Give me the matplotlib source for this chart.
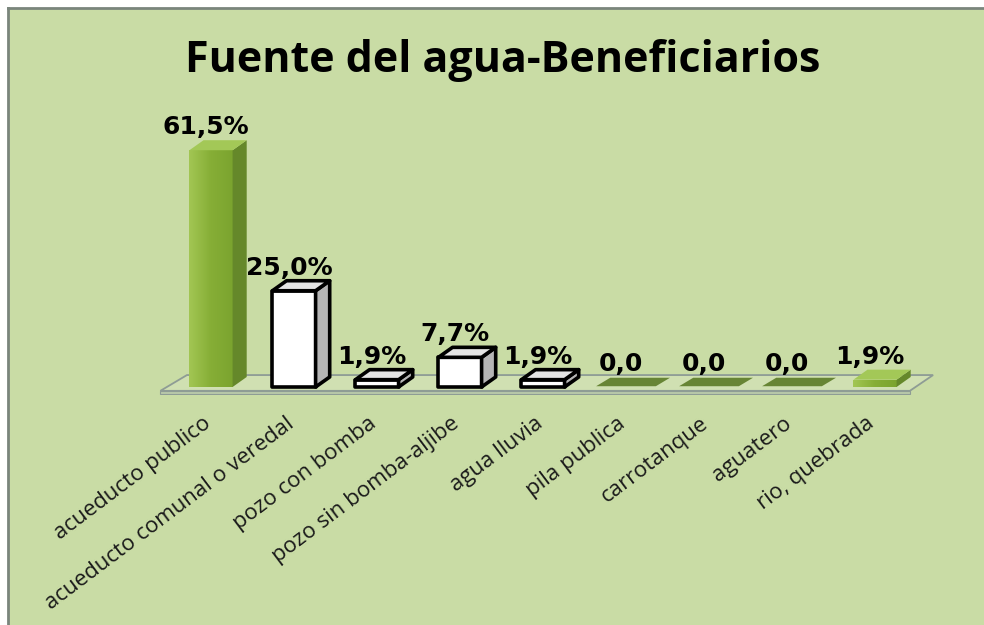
import numpy as np
import matplotlib.pyplot as plt
from matplotlib.patches import Polygon, Rectangle
from matplotlib.colors import LinearSegmentedColormap

# Fuente del agua de los beneficiarios (%)
categorias = ['acueducto publico', 'acueducto comunal o veredal', 'pozo con bomba',
              'pozo sin bomba-aljibe', 'agua lluvia', 'pila publica', 'carrotanque',
              'aguatero', 'rio, quebrada']
porcentajes = [61.5, 25.0, 1.9, 7.7, 1.9, 0.0, 0.0, 0.0, 1.9]
rellenos = ['verde', 'blanco', 'blanco', 'blanco', 'blanco',
            'verde', 'verde', 'verde', 'verde']

# frente, lado, techo, borde
colores = {'verde': ('#8ab43a', '#65882a', '#a3c857', 'none'),
           'blanco': ('white', '#b5b5b5', '#e4e4e4', 'black')}

ancho = 0.52      # ancho de la barra
prof_x = 0.17     # profundidad en x
prof_y = 2.6      # profundidad en y (%)

fig = plt.figure(figsize=(9.84, 6.25), dpi=100)
fig.patch.set_facecolor('white')
fondo = Rectangle((8 / 984, 0), 1, 1 - 8 / 625, transform=fig.transFigure,
                  facecolor='#c9dca5', edgecolor='none', zorder=0)
fig.add_artist(fondo)
fig.add_artist(plt.Line2D([8 / 984, 1], [1 - 8 / 625] * 2, color='#7a857c', lw=2))
fig.add_artist(plt.Line2D([8 / 984] * 2, [0, 1 - 8 / 625], color='#7a857c', lw=2))

fig.text(0.511, 1 - 72 / 625, 'Fuente del agua-Beneficiarios', ha='center',
         va='baseline', fontsize=31, fontweight='bold', family='Open Sans')

ax = fig.add_axes([0.1554, 0.3685, 0.8013, 0.4435])
ax.set_xlim(-0.7, 8.8)
ax.set_ylim(-2, 70)
ax.axis('off')

n = len(categorias)

# piso
piso = Polygon([(-0.61, -1.0), (n - 1 + 0.42, -1.0), (n - 1 + 0.70, 3.1), (-0.29, 3.1)],
               facecolor='#d0e0b2', edgecolor='#8e9c95', lw=1.3, zorder=1)
ax.add_patch(piso)
ax.add_patch(Polygon([(-0.61, -1.0), (n - 1 + 0.42, -1.0), (n - 1 + 0.42, -1.7),
                      (-0.61, -1.7)], facecolor='#b9c9aa', edgecolor='#8e9c95',
                     lw=0.8, zorder=1))

gradiente = np.linspace(0, 1, 50).reshape(1, -1)
cmap_verde = LinearSegmentedColormap.from_list('g', ['#a2c653', '#86ae36', '#7ba42f'])

for i, (v, r) in enumerate(zip(porcentajes, rellenos)):
    frente, lado, techo, borde = colores[r]
    x0, x1 = i - ancho / 2, i + ancho / 2
    lw = 2.6 if borde != 'none' else 0
    if v == 0:
        ax.add_patch(Polygon([(x0 - 0.1, 0.2), (x1 + 0.1, 0.2),
                              (x1 + prof_x + 0.1, prof_y - 0.2),
                              (x0 + prof_x - 0.1, prof_y - 0.2)],
                             facecolor='#55751f', alpha=0.85, edgecolor='none', zorder=2))
    else:
        rect = Rectangle((x0, 0), ancho, v, facecolor=frente, edgecolor=borde,
                         lw=lw, joinstyle='round', zorder=3)
        ax.add_patch(rect)
        if r == 'verde':
            im = ax.imshow(gradiente, cmap=cmap_verde, extent=(x0, x1, 0, v),
                           aspect='auto', zorder=3)
            im.set_clip_path(rect)
        ax.add_patch(Polygon([(x1, 0), (x1 + prof_x, prof_y), (x1 + prof_x, v + prof_y),
                              (x1, v)], facecolor=lado, edgecolor=borde, lw=lw,
                             joinstyle='round', zorder=3))
        ax.add_patch(Polygon([(x0, v), (x1, v), (x1 + prof_x, v + prof_y),
                              (x0 + prof_x, v + prof_y)], facecolor=techo,
                             edgecolor=borde, lw=lw, joinstyle='round', zorder=3))

    etiqueta = f'{v:.1f}'.replace('.', ',') + ('%' if v else '')
    ax.annotate(etiqueta, xy=(i, v + prof_y), xytext=(-5, 6), textcoords='offset pixels',
                ha='center', va='baseline', fontsize=18, fontweight='bold',
                family='DejaVu Sans', zorder=5)

    ax.annotate(categorias[i], xy=(i, -1.0), xytext=(-9, -22), textcoords='offset pixels',
                ha='right', va='top', rotation=37, rotation_mode='anchor',
                fontsize=16, family='Open Sans', color='#1a1a1a', annotation_clip=False)

ax.set_xlim(-0.7, 8.8)
ax.set_ylim(-2, 70)

fig.savefig('out.png', dpi=100)
